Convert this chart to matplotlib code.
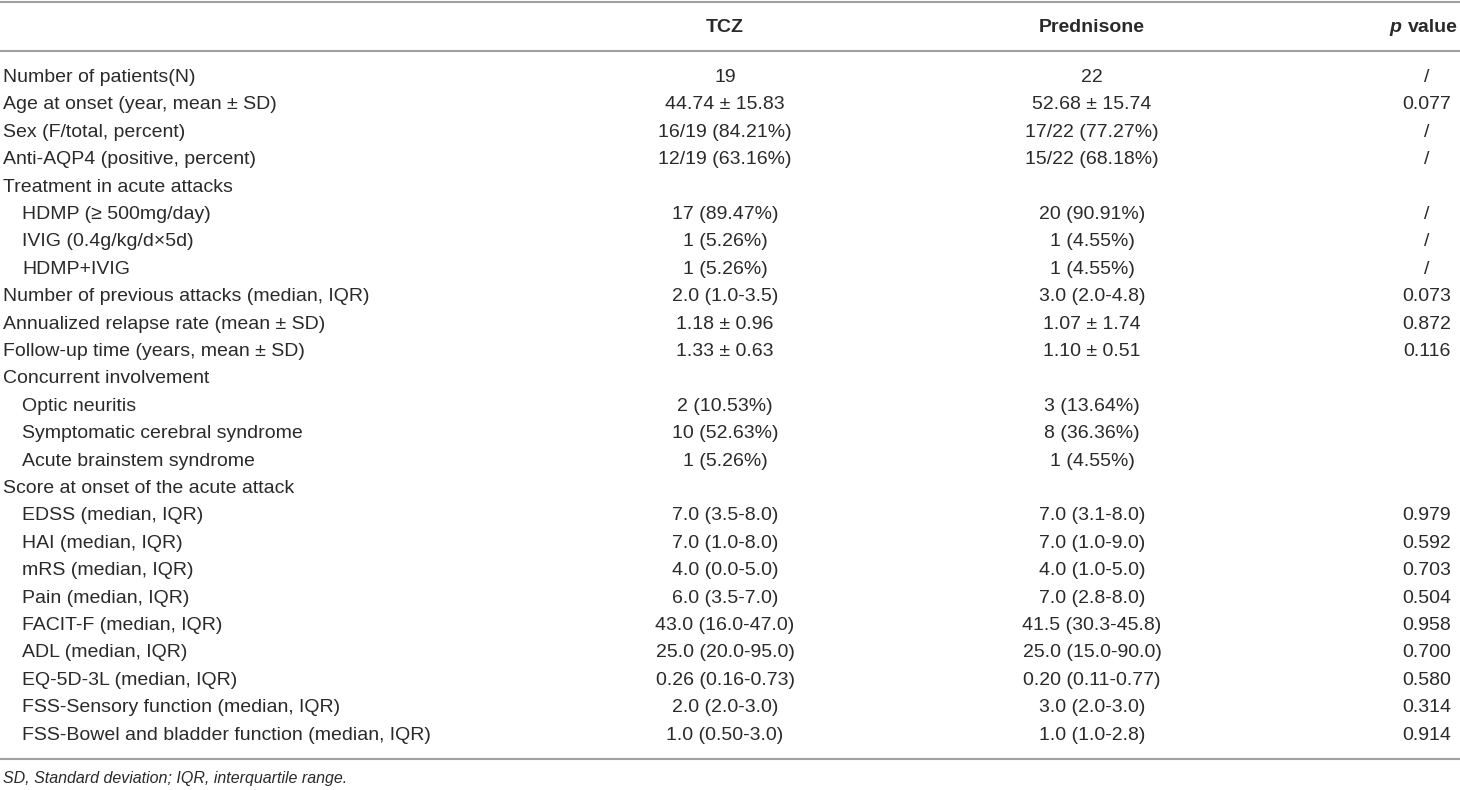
import matplotlib.pyplot as plt

plt.rcParams['font.family'] = ['Liberation Sans', 'DejaVu Sans']

headers = ["TCZ", "Prednisone"]

labels = [
    "Number of patients(N)", "Age at onset (year, mean ± SD)", "Sex (F/total, percent)",
    "Anti-AQP4 (positive, percent)", "Treatment in acute attacks",
    "HDMP (≥ 500mg/day)", "IVIG (0.4g/kg/d×5d)", "HDMP+IVIG",
    "Number of previous attacks (median, IQR)", "Annualized relapse rate (mean ± SD)",
    "Follow-up time (years, mean ± SD)", "Concurrent involvement",
    "Optic neuritis", "Symptomatic cerebral syndrome", "Acute brainstem syndrome",
    "Score at onset of the acute attack",
    "EDSS (median, IQR)", "HAI (median, IQR)", "mRS (median, IQR)", "Pain (median, IQR)",
    "FACIT-F (median, IQR)", "ADL (median, IQR)", "EQ-5D-3L (median, IQR)",
    "FSS-Sensory function (median, IQR)", "FSS-Bowel and bladder function (median, IQR)",
]
indented = [0, 0, 0, 0, 0, 1, 1, 1, 0, 0, 0, 0, 1, 1, 1, 0, 1, 1, 1, 1, 1, 1, 1, 1, 1]

tcz = [
    "19", "44.74 ± 15.83", "16/19 (84.21%)", "12/19 (63.16%)", "",
    "17 (89.47%)", "1 (5.26%)", "1 (5.26%)",
    "2.0 (1.0-3.5)", "1.18 ± 0.96", "1.33 ± 0.63", "",
    "2 (10.53%)", "10 (52.63%)", "1 (5.26%)", "",
    "7.0 (3.5-8.0)", "7.0 (1.0-8.0)", "4.0 (0.0-5.0)", "6.0 (3.5-7.0)",
    "43.0 (16.0-47.0)", "25.0 (20.0-95.0)", "0.26 (0.16-0.73)", "2.0 (2.0-3.0)", "1.0 (0.50-3.0)",
]
prednisone = [
    "22", "52.68 ± 15.74", "17/22 (77.27%)", "15/22 (68.18%)", "",
    "20 (90.91%)", "1 (4.55%)", "1 (4.55%)",
    "3.0 (2.0-4.8)", "1.07 ± 1.74", "1.10 ± 0.51", "",
    "3 (13.64%)", "8 (36.36%)", "1 (4.55%)", "",
    "7.0 (3.1-8.0)", "7.0 (1.0-9.0)", "4.0 (1.0-5.0)", "7.0 (2.8-8.0)",
    "41.5 (30.3-45.8)", "25.0 (15.0-90.0)", "0.20 (0.11-0.77)", "3.0 (2.0-3.0)", "1.0 (1.0-2.8)",
]
pvals = [
    "/", "0.077", "/", "/", "",
    "/", "/", "/",
    "0.073", "0.872", "0.116", "",
    "", "", "", "",
    "0.979", "0.592", "0.703", "0.504",
    "0.958", "0.700", "0.580", "0.314", "0.914",
]
footnote = "SD, Standard deviation; IQR, interquartile range."

fig = plt.figure(figsize=(14.6, 7.9), dpi=100)
ax = fig.add_axes([0, 0, 1, 1])
ax.set_xlim(0, 1460)
ax.set_ylim(790, 0)
ax.axis('off')

txt = '#2a2a2a'
fs = 14
col_x = [725, 1092]
p_x = 1427
y0, dy = 77.5, 27.4

# rules
for y in [1.5, 50.5, 759]:
    ax.axhline(y, color='#a0a0a0', lw=1.5)

# header
for h, x in zip(headers, col_x):
    ax.text(x, 27, h, ha='center', va='center', fontsize=fs, fontweight='bold', color=txt)
ax.text(1458, 27, "value", ha='right', va='center', fontsize=fs, fontweight='bold', color=txt)
ax.text(1401, 27, "p", ha='right', va='center', fontsize=fs, fontweight='bold', style='italic', color=txt)

for i, lab in enumerate(labels):
    y = y0 + i * dy
    x = 22 if indented[i] else 3
    ax.text(x, y, lab, ha='left', va='center', fontsize=fs, color=txt)
    ax.text(col_x[0], y, tcz[i], ha='center', va='center', fontsize=fs, color=txt)
    ax.text(col_x[1], y, prednisone[i], ha='center', va='center', fontsize=fs, color=txt)
    ax.text(p_x, y, pvals[i], ha='center', va='center', fontsize=fs, color=txt)

ax.text(3, 779, footnote, ha='left', va='center', fontsize=11.5, style='italic', color=txt)

fig.savefig('out.png', dpi=100)
